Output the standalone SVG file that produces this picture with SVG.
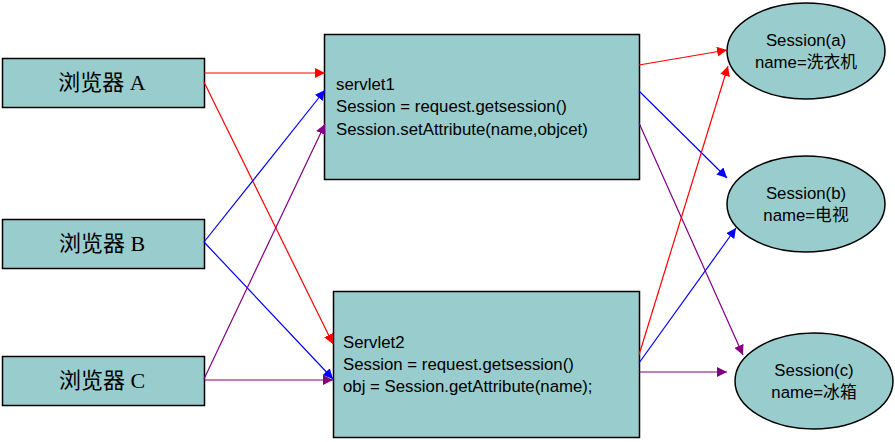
<svg xmlns="http://www.w3.org/2000/svg" width="895" height="442" viewBox="0 0 895 442">
<style>
.box{fill:#99CCCC;stroke:#000;stroke-width:1.5}
.br{font-family:"Liberation Serif","Noto Sans CJK SC",serif;font-size:22px;fill:#000;text-anchor:middle}
.code{font-family:"Liberation Sans","Noto Sans CJK SC",sans-serif;font-size:16.8px;fill:#000}
.ses{font-family:"Liberation Sans","Noto Sans CJK SC",sans-serif;font-size:16.8px;fill:#000;text-anchor:middle}
.r{stroke:#FF0000;fill:none;stroke-width:1.2}
.b{stroke:#0000FF;fill:none;stroke-width:1.2}
.p{stroke:#800080;fill:none;stroke-width:1.2}
</style>
<defs>
<marker id="ar" viewBox="0 0 10 10" refX="10" refY="5" markerWidth="10" markerHeight="10" markerUnits="userSpaceOnUse" orient="auto"><path d="M0,0L10,5L0,10z" fill="#FF0000"/></marker>
<marker id="ab" viewBox="0 0 10 10" refX="10" refY="5" markerWidth="10" markerHeight="10" markerUnits="userSpaceOnUse" orient="auto"><path d="M0,0L10,5L0,10z" fill="#0000FF"/></marker>
<marker id="ap" viewBox="0 0 10 10" refX="10" refY="5" markerWidth="10" markerHeight="10" markerUnits="userSpaceOnUse" orient="auto"><path d="M0,0L10,5L0,10z" fill="#800080"/></marker>
</defs>
<g id="browserA"><rect class="box" x="2.5" y="58.5" width="202" height="49"/><text class="br" x="102" y="90">浏览器 A</text></g>
<g id="browserB"><rect class="box" x="2.5" y="219.5" width="202" height="49"/><text class="br" x="102" y="251">浏览器 B</text></g>
<g id="browserC"><rect class="box" x="2.5" y="356.5" width="202" height="49"/><text class="br" x="102" y="388">浏览器 C</text></g>
<g id="servlet1"><rect class="box" x="324.5" y="34.5" width="315" height="145"/>
<text class="code" x="336" y="90">servlet1</text>
<text class="code" x="336" y="112">Session = request.getsession()</text>
<text class="code" x="336" y="135">Session.setAttribute(name,objcet)</text></g>
<g id="servlet2"><rect class="box" x="333.5" y="291.5" width="306" height="146"/>
<text class="code" x="343" y="348">Servlet2</text>
<text class="code" x="343" y="370">Session = request.getsession()</text>
<text class="code" x="343" y="392">obj = Session.getAttribute(name);</text></g>
<g id="sessionA"><ellipse class="box" cx="806" cy="51" rx="79" ry="48"/><text class="ses" x="806" y="46">Session(a)</text><text class="ses" x="806" y="68">name=洗衣机</text></g>
<g id="sessionB"><ellipse class="box" cx="806" cy="204" rx="79" ry="48"/><text class="ses" x="806" y="199">Session(b)</text><text class="ses" x="806" y="221">name=电视</text></g>
<g id="sessionC"><ellipse class="box" cx="814" cy="381" rx="79" ry="48"/><text class="ses" x="814" y="376">Session(c)</text><text class="ses" x="814" y="398">name=冰箱</text></g>
<g id="connectors">
<line class="r" x1="204" y1="73" x2="325" y2="73" marker-end="url(#ar)"/>
<line class="r" x1="204" y1="82" x2="333" y2="344" marker-end="url(#ar)"/>
<line class="b" x1="204" y1="242" x2="325" y2="90" marker-end="url(#ab)"/>
<line class="b" x1="204" y1="242" x2="333" y2="379" marker-end="url(#ab)"/>
<line class="p" x1="204" y1="379" x2="325" y2="124" marker-end="url(#ap)"/>
<line class="p" x1="204" y1="380" x2="333" y2="380" marker-end="url(#ap)"/>
<line class="r" x1="639" y1="65" x2="727" y2="50" marker-end="url(#ar)"/>
<line class="b" x1="639" y1="91" x2="727" y2="178" marker-end="url(#ab)"/>
<line class="p" x1="639" y1="123" x2="743" y2="355" marker-end="url(#ap)"/>
<line class="r" x1="639" y1="355" x2="728" y2="66" marker-end="url(#ar)"/>
<line class="b" x1="639" y1="363" x2="736" y2="228" marker-end="url(#ab)"/>
<line class="p" x1="639" y1="372" x2="727" y2="372" marker-end="url(#ap)"/>
</g>
</svg>
